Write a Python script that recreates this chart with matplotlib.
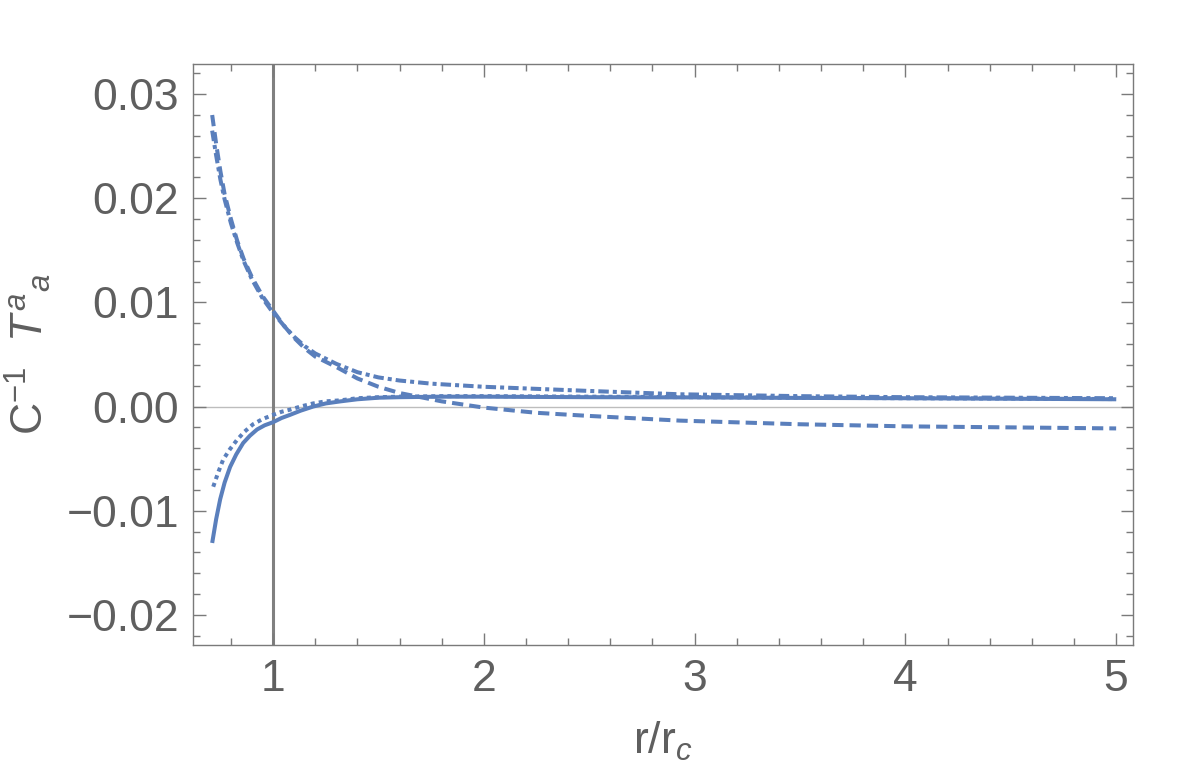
import matplotlib
matplotlib.use("Agg")
import matplotlib.pyplot as plt
from matplotlib.ticker import MultipleLocator

plt.rcParams['font.family'] = ['Liberation Sans', 'DejaVu Sans']
plt.rcParams['mathtext.fontset'] = 'custom'
plt.rcParams['mathtext.rm'] = 'Liberation Sans'
plt.rcParams['mathtext.it'] = 'Liberation Sans:italic'
plt.rcParams['mathtext.default'] = 'it'

# Data
x_solid = [0.711, 0.73, 0.749, 0.77, 0.796, 0.825, 0.858, 0.89, 0.924, 0.96, 1.0, 1.04, 1.08, 1.13,
           1.19, 1.25, 1.32, 1.4, 1.5, 1.6, 1.8, 2.0, 2.5, 3.0, 3.5, 4.0, 4.5, 5.0]
y_solid = [-0.0131, -0.0108, -0.0089, -0.0073, -0.0058, -0.0046, -0.0035, -0.0028, -0.0022, -0.0018,
           -0.0015, -0.0011, -0.0008, -0.0004, 0.0000, 0.0003, 0.0005, 0.0007, 0.00085, 0.0009,
           0.00095, 0.00095, 0.0009, 0.00088, 0.00083, 0.0008, 0.00075, 0.0007]

x_dotted = [0.716, 0.74, 0.763, 0.795, 0.829, 0.865, 0.905, 0.95, 1.0, 1.04, 1.08, 1.13, 1.19, 1.25,
            1.32, 1.4, 1.5, 1.6, 1.8, 2.0, 2.5, 3.0, 3.5, 4.0, 4.5, 5.0]
y_dotted = [-0.0077, -0.0063, -0.0051, -0.0041, -0.0032, -0.0024, -0.0017, -0.0012, -0.0008, -0.0005,
            -0.0003, 0.0, 0.0003, 0.0005, 0.0006, 0.0008, 0.0009, 0.00095, 0.001, 0.001, 0.00095,
            0.0009, 0.00085, 0.0008, 0.00077, 0.00072]

x_dashed = [0.711, 0.73, 0.75, 0.77, 0.8, 0.83, 0.86, 0.9, 0.95, 1.0, 1.05, 1.1, 1.15, 1.2, 1.3, 1.4,
            1.5, 1.6, 1.7, 1.8, 1.9, 2.0, 2.25, 2.5, 2.93, 3.5, 4.0, 4.5, 5.0]
y_dashed = [0.0280, 0.0252, 0.0226, 0.0204, 0.0180, 0.0159, 0.0142, 0.0124, 0.0106, 0.0092, 0.0078,
            0.0066, 0.0056, 0.0048, 0.0038, 0.0027, 0.0019, 0.0013, 0.0009, 0.0005, 0.0002, -0.0001,
            -0.0006, -0.0009, -0.00135, -0.0017, -0.0019, -0.002, -0.0021]

x_dotdash = [0.711, 0.73, 0.75, 0.77, 0.8, 0.83, 0.86, 0.9, 0.95, 1.0, 1.05, 1.1, 1.15, 1.2, 1.3, 1.4,
             1.5, 1.6, 1.75, 2.0, 2.5, 2.93, 3.5, 4.0, 4.5, 5.0]
y_dotdash = [0.0265, 0.0241, 0.0218, 0.0199, 0.0176, 0.0157, 0.0140, 0.0122, 0.0104, 0.0090, 0.0078,
             0.0067, 0.0058, 0.0051, 0.0041, 0.0033, 0.0028, 0.0025, 0.0022, 0.0019, 0.0015, 0.00118,
             0.001, 0.0009, 0.00085, 0.0008]

x_ticks = [1, 2, 3, 4, 5]
y_ticks = [-0.02, -0.01, 0.0, 0.01, 0.02, 0.03]
y_ticklabels = ['\u22120.02', '\u22120.01', '0.00', '0.01', '0.02', '0.03']

blue = '#5a7fbc'
textc = '#5f5f5f'
framec = '#7a7a7a'

fig = plt.figure(figsize=(12, 7.71), dpi=100)
ax = fig.add_axes([193/1200, 1-645/771, (1133-193)/1200, (645-64)/771])

ax.axhline(0, color='#bdbdbd', lw=1.0, zorder=1)
ax.axvline(1, color='#808080', lw=2.2, zorder=1)

lw = 2.9
ax.plot(x_solid, y_solid, color=blue, lw=lw, solid_capstyle='butt', solid_joinstyle='round', zorder=3)
ax.plot(x_dotted, y_dotted, color=blue, lw=lw, dashes=(1.0, 1.0), dash_capstyle='butt', zorder=3)
ax.plot(x_dashed, y_dashed, color=blue, lw=lw, dashes=(2.8, 1.5), dash_capstyle='butt', zorder=3)
ax.plot(x_dotdash, y_dotdash, color=blue, lw=lw, dashes=(2.6, 1.0, 1.0, 1.0), dash_capstyle='butt', zorder=3)

ax.set_xlim(0.62, 5.08)
ax.set_ylim(-0.0229, 0.0329)

ax.set_xticks(x_ticks)
ax.set_xticklabels([str(v) for v in x_ticks])
ax.set_yticks(y_ticks)
ax.set_yticklabels(y_ticklabels)
ax.xaxis.set_minor_locator(MultipleLocator(0.2))
ax.yaxis.set_minor_locator(MultipleLocator(0.002))

ax.tick_params(which='both', direction='in', top=True, right=True, color=framec, width=1.0,
               labelcolor=textc, labelsize=32)
ax.tick_params(which='major', length=9, pad=10)
ax.tick_params(which='minor', length=5)

for s in ax.spines.values():
    s.set_color(framec)
    s.set_linewidth(1.0)

ax.set_xlabel(r'r/r$_{c}$', fontsize=32, color=textc, labelpad=14)
ax.set_ylabel(r'$\mathrm{C}^{-1}$  $T^{a}{}_{a}$', fontsize=32, color=textc, labelpad=10)

fig.savefig('out.png', dpi=100)
